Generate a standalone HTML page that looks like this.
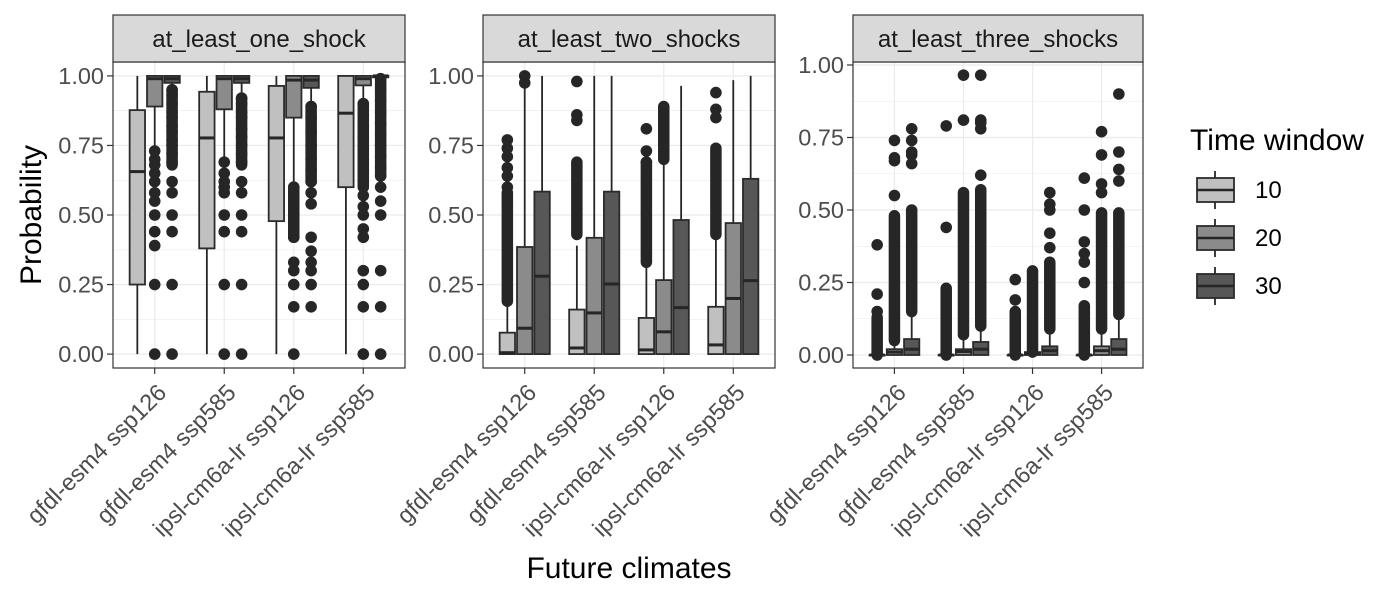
<!DOCTYPE html>
<html><head><meta charset="utf-8"><style>
html,body{margin:0;padding:0;background:#fff;}
svg{display:block;font-family:"Liberation Sans",Arial,sans-serif;}
</style></head><body>
<svg id="chart" width="1400" height="600" viewBox="0 0 1400 600" xmlns="http://www.w3.org/2000/svg"></svg>
<script>
const categories = ["gfdl-esm4 ssp126","gfdl-esm4 ssp585","ipsl-cm6a-lr ssp126","ipsl-cm6a-lr ssp585"];
const groups = ["10","20","30"];
const facetTitles = ["at_least_one_shock","at_least_two_shocks","at_least_three_shocks"];
const yTicks = [0,0.25,0.5,0.75,1];
const yTickLabels = ["0.00","0.25","0.50","0.75","1.00"];

// Panel 1 (order: cat1 g10,g20,g30, cat2 ...)
const p1Lower=[0,0.74,0.96, 0,0.71,0.93, 0,0.62,0.9, 0,0.905,0.995];
const p1Q1=[0.25,0.89,0.975, 0.38,0.88,0.975, 0.478,0.85,0.957, 0.6,0.966,0.995];
const p1Med=[0.656,0.99,0.99, 0.777,0.99,0.99, 0.777,0.985,0.985, 0.866,0.99,1];
const p1Q3=[0.877,1,1, 0.943,1,1, 0.964,1,1, 1,1,1];
const p1Upper=[1,1,1, 1,1,1, 1,1,1, 1,1,1];
const p1Out=[[],[0.73,0.7,0.68,0.65,0.62,0.58,0.55,0.5,0.44,0.39,0.25,0],[0.95,0.93,0.9,0.87,0.85,0.82,0.8,0.77,0.75,0.72,0.69,0.62,0.58,0.5,0.44,0.25,0],
 [],[0.69,0.65,0.62,0.6,0.58,0.5,0.44,0.25,0],[0.92,0.9,0.87,0.85,0.81,0.78,0.75,0.72,0.69,0.62,0.58,0.5,0.44,0.25,0],
 [],[0.6,0.57,0.54,0.5,0.47,0.44,0.42,0.33,0.3,0.25,0.17,0],[0.89,0.85,0.8,0.75,0.7,0.66,0.62,0.58,0.54,0.42,0.37,0.33,0.3,0.25,0.17],
 [],[0.9,0.86,0.82,0.78,0.74,0.7,0.66,0.62,0.57,0.53,0.5,0.45,0.42,0.3,0.25,0.17,0],[0.99,0.95,0.91,0.87,0.83,0.79,0.75,0.71,0.67,0.64,0.6,0.55,0.5,0.3,0.17,0]];
const p1Dense=[null,null,[0.68,0.95], null,null,[0.68,0.92], null,[0.42,0.6],[0.62,0.89], null,[0.6,0.9],[0.64,0.99]];

// Panel 2
const p2Lower=[0,0,0, 0,0,0, 0,0,0, 0,0,0];
const p2Q1=[0,0,0, 0,0,0, 0,0,0, 0,0,0];
const p2Med=[0.005,0.093,0.28, 0.022,0.148,0.252, 0.015,0.08,0.167, 0.033,0.2,0.264];
const p2Q3=[0.077,0.385,0.584, 0.16,0.418,0.584, 0.13,0.266,0.482, 0.17,0.471,0.63];
const p2Upper=[0.18,0.96,1, 0.39,1,1, 0.32,0.69,0.964, 0.417,0.985,1];
const p2Out=[[0.77,0.74,0.71,0.67,0.64,0.6],[1.0,0.975],[], [0.98,0.86,0.84],[],[], [0.81,0.73,0.69],[],[], [0.94,0.88,0.85],[],[]];
const p2Dense=[[0.19,0.58],null,null, [0.43,0.69],null,null, [0.33,0.69],[0.7,0.89],null, [0.43,0.74],null,null];

// Panel 3
const p3Lower=[0,0,0, 0,0,0, 0,0,0, 0,0,0];
const p3Q1=[0,0,0, 0,0,0, 0,0,0, 0,0,0];
const p3Med=[0,0.01,0.02, 0,0.012,0.02, 0,0.005,0.015, 0,0.015,0.02];
const p3Q3=[0,0.02,0.055, 0,0.02,0.045, 0,0.01,0.03, 0,0.03,0.055];
const p3Upper=[0,0.05,0.14, 0,0.06,0.1, 0,0.01,0.08, 0,0.08,0.13];
const p3Out=[[0.15,0.21,0.38],[0.55,0.67,0.68,0.74],[0.66,0.69,0.7,0.74,0.78],
 [0.44,0.79],[0.81,0.965],[0.62,0.78,0.8,0.81,0.965],
 [0.19,0.26],[],[0.37,0.42,0.5,0.52,0.56],
 [0.25,0.32,0.35,0.39,0.5,0.61],[0.56,0.59,0.69,0.77],[0.6,0.64,0.7,0.9]];
const p3Dense=[[0,0.13],[0.05,0.48],[0.15,0.5], [0,0.23],[0.07,0.56],[0.1,0.57], [0,0.15],[0.01,0.29],[0.09,0.32], [0,0.17],[0.09,0.49],[0.14,0.49]];

const fills=["#c0c0c0","#8b8b8b","#575757"];
const NS="http://www.w3.org/2000/svg";
const svg=document.getElementById('chart');
function mk(tag,attrs,parent){const e=document.createElementNS(NS,tag);for(const k in attrs)e.setAttribute(k,attrs[k]);(parent||svg).appendChild(e);return e;}

const panels=[
 {x0:113,x1:405,top:62,bot:368,vmin:-0.05,vmax:1.05,d:[p1Lower,p1Q1,p1Med,p1Q3,p1Upper,p1Out,p1Dense]},
 {x0:483,x1:775,top:62,bot:368,vmin:-0.05,vmax:1.05,d:[p2Lower,p2Q1,p2Med,p2Q3,p2Upper,p2Out,p2Dense]},
 {x0:853,x1:1143,top:62,bot:368,vmin:-0.0448,vmax:1.0103,d:[p3Lower,p3Q1,p3Med,p3Q3,p3Upper,p3Out,p3Dense]}
];

panels.forEach((p,pi)=>{
 const g=mk('g',{});
 
 
 const ys=v=>p.bot-(v-p.vmin)/(p.vmax-p.vmin)*(p.bot-p.top);
 const unit=(p.x1-p.x0)/(categories.length-1+1.2);
 const xs=i=>p.x0+(0.6+i)*unit;
 const minor=[0.125,0.375,0.625,0.875];
 minor.forEach(v=>{const l=mk('line',{x1:p.x0,x2:p.x1,y1:ys(v),y2:ys(v),stroke:'#ebebeb','stroke-width':0.6},g);
  });
 yTicks.forEach(v=>{const l=mk('line',{x1:p.x0,x2:p.x1,y1:ys(v),y2:ys(v),stroke:'#ebebeb','stroke-width':1.2},g);
  });
 categories.forEach((c,i)=>{const l=mk('line',{x1:xs(i),x2:xs(i),y1:p.top,y2:p.bot,stroke:'#ebebeb','stroke-width':1.2},g);
  });
 const [lo,q1,md,q3,up,out,dense]=p.d;
 const bw=unit*0.25;
 categories.forEach((c,ci)=>{
  groups.forEach((gr,gi)=>{
   const k=ci*3+gi;
   const cx=xs(ci)+(gi-1)*bw;
   const bg=mk('g',{},g);
   
   
   mk('line',{x1:cx,x2:cx,y1:ys(q3[k]),y2:ys(up[k]),stroke:'#262626','stroke-width':1.8},bg);
   mk('line',{x1:cx,x2:cx,y1:ys(q1[k]),y2:ys(lo[k]),stroke:'#262626','stroke-width':1.8},bg);
   mk('rect',{x:cx-bw/2+1,y:ys(q3[k]),width:bw-2,height:Math.max(ys(q1[k])-ys(q3[k]),0.5),fill:fills[gi],stroke:'#2b2b2b','stroke-width':1.8},bg);
   mk('line',{x1:cx-bw/2+1,x2:cx+bw/2-1,y1:ys(md[k]),y2:ys(md[k]),stroke:'#262626','stroke-width':3},bg);
   if(dense[k]){const dl=mk('line',{x1:cx,x2:cx,y1:ys(dense[k][0]),y2:ys(dense[k][1]),stroke:'#262626','stroke-width':11.5,'stroke-linecap':'round'},bg);
    }
   out[k].forEach(v=>{const d=mk('circle',{cx:cx,cy:ys(v),r:5.8,fill:'#262626'},bg);
    });
  });
 });
 const fr=mk('rect',{x:p.x0,y:p.top,width:p.x1-p.x0,height:p.bot-p.top,fill:'none',stroke:'#333','stroke-width':1.2},g);
 
 const st=mk('rect',{x:p.x0,y:15,width:p.x1-p.x0,height:p.top-15,fill:'#d9d9d9',stroke:'#333','stroke-width':1.2},g);
 
 const stt=mk('text',{x:(p.x0+p.x1)/2,y:47,'text-anchor':'middle','font-size':24,fill:'#1a1a1a'},g);
 stt.textContent=facetTitles[pi];
 
 yTicks.forEach((v,i)=>{
  mk('line',{x1:p.x0-6,x2:p.x0,y1:ys(v),y2:ys(v),stroke:'#333','stroke-width':1.2},g);
  const t=mk('text',{x:p.x0-9,y:ys(v)+8,'text-anchor':'end','font-size':23.5,fill:'#4d4d4d'},g);
  t.textContent=yTickLabels[i];
  
 });
 categories.forEach((c,i)=>{
  mk('line',{x1:xs(i),x2:xs(i),y1:p.bot,y2:p.bot+6,stroke:'#333','stroke-width':1.2},g);
  const tx=xs(i)+13, ty=394;
  const t=mk('text',{x:tx,y:ty,'text-anchor':'end','font-size':23.5,fill:'#4d4d4d',transform:`rotate(-45 ${tx} ${ty})`},g);
  t.textContent=c;
  
 });
});

const yt=mk('text',{x:0,y:0,'text-anchor':'middle','font-size':30,fill:'#000',transform:'translate(41 215) rotate(-90)'});
yt.textContent='Probability';

const xt=mk('text',{x:629,y:578,'text-anchor':'middle','font-size':30,fill:'#000'});
xt.textContent='Future climates';


const lg=mk('g',{});

const lt=mk('text',{x:1190,y:150,'font-size':30,fill:'#000'},lg);
lt.textContent='Time window';

groups.forEach((gr,i)=>{
 const cy=190+i*48;
 const e=mk('g',{},lg);
 
 mk('line',{x1:1215,x2:1215,y1:cy-19,y2:cy+19,stroke:'#262626','stroke-width':1.8},e);
 mk('rect',{x:1197,y:cy-12,width:37,height:24,fill:fills[i],stroke:'#2b2b2b','stroke-width':1.8},e);
 mk('line',{x1:1197,x2:1234,y1:cy,y2:cy,stroke:'#262626','stroke-width':2.5},e);
 const t=mk('text',{x:1255,y:cy+8,'font-size':24,fill:'#000'},e);
 t.textContent=gr;
});
</script>
</body></html>
